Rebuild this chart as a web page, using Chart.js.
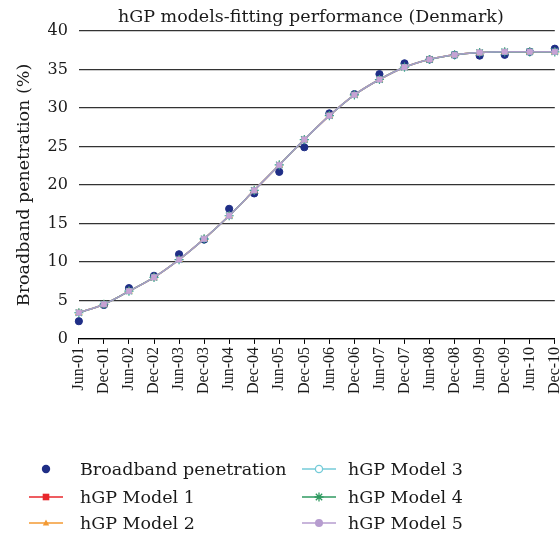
<!DOCTYPE html>
<html>
<head>
<meta charset="utf-8">
<script src="https://cdn.jsdelivr.net/npm/chart.js@4.4.1/dist/chart.umd.min.js"></script>
<style>
  html, body { margin: 0; padding: 0; background: #fff; overflow: hidden; }
  #caixa { width: 577px; height: 537px; }
</style>
</head>
<body>
<div id="caixa"><canvas id="grafico" width="577" height="537"></canvas></div>
<script>
let periodos = ["Jun-01", "Dec-01", "Jun-02", "Dec-02", "Jun-03", "Dec-03", "Jun-04", "Dec-04", "Jun-05", "Dec-05",
                "Jun-06", "Dec-06", "Jun-07", "Dec-07", "Jun-08", "Dec-08", "Jun-09", "Dec-09", "Jun-10", "Dec-10"];
let penetracao = [2.3, 4.4, 6.6, 8.2, 11.0, 12.9, 16.9, 18.9, 21.7, 24.9, 29.3, 31.8, 34.4, 35.8, 36.3, 36.9, 36.8, 36.9, 37.3, 37.7];
let modelo1 = [3.4, 4.5, 6.2, 8.0, 10.3, 13.0, 16.0, 19.3, 22.6, 25.9, 29.0, 31.7, 33.7, 35.3, 36.3, 36.9, 37.2, 37.3, 37.3, 37.3];
let modelo2 = [3.4, 4.5, 6.2, 8.0, 10.3, 13.0, 16.0, 19.3, 22.6, 25.9, 29.0, 31.7, 33.7, 35.3, 36.3, 36.9, 37.2, 37.3, 37.3, 37.3];
let modelo3 = [3.4, 4.5, 6.2, 8.0, 10.3, 13.0, 16.0, 19.3, 22.6, 25.9, 29.0, 31.7, 33.7, 35.3, 36.3, 36.9, 37.2, 37.3, 37.3, 37.3];
let modelo4 = [3.4, 4.5, 6.2, 8.0, 10.3, 13.0, 16.0, 19.3, 22.6, 25.9, 29.0, 31.7, 33.7, 35.3, 36.3, 36.9, 37.2, 37.3, 37.3, 37.3];
let modelo5 = [3.4, 4.5, 6.2, 8.0, 10.3, 13.0, 16.0, 19.3, 22.6, 25.9, 29.0, 31.7, 33.7, 35.3, 36.3, 36.9, 37.2, 37.3, 37.3, 37.3];

let titulo = "hGP models-fitting performance (Denmark)";
let serif = "'DejaVu Serif', serif";

// legend drawn by hand: two columns, like the original figure
let itensLegenda = [
  { texto: "Broadband penetration", cor: "#1f2e86", marca: "ponto",    linha: false },
  { texto: "hGP Model 1",           cor: "#e8272c", marca: "quadrado", linha: true },
  { texto: "hGP Model 2",           cor: "#f39a33", marca: "triangulo", linha: true },
  { texto: "hGP Model 3",           cor: "#74cbd8", marca: "aberto",   linha: true },
  { texto: "hGP Model 4",           cor: "#2f9a60", marca: "estrela",  linha: true },
  { texto: "hGP Model 5",           cor: "#b69ccf", marca: "circulo",  linha: true }
];

let desenharMarca = (ctx, marca, cor, x, y) => {
  ctx.save();
  ctx.fillStyle = cor;
  ctx.strokeStyle = cor;
  ctx.lineWidth = 1.3;
  ctx.beginPath();
  if (marca === "ponto") {
    ctx.arc(x, y, 4.2, 0, Math.PI * 2);
    ctx.fill();
  } else if (marca === "quadrado") {
    ctx.fillRect(x - 3.3, y - 3.3, 6.6, 6.6);
  } else if (marca === "triangulo") {
    ctx.moveTo(x, y - 3.5);
    ctx.lineTo(x + 3.2, y + 2.5);
    ctx.lineTo(x - 3.2, y + 2.5);
    ctx.closePath();
    ctx.fill();
  } else if (marca === "aberto") {
    ctx.fillStyle = "#fff";
    ctx.arc(x, y, 3.6, 0, Math.PI * 2);
    ctx.fill();
    ctx.stroke();
  } else if (marca === "estrela") {
    for (let a = 0; a < 4; a++) {
      let ang = a * Math.PI / 4;
      ctx.moveTo(x - 4.5 * Math.cos(ang), y - 4.5 * Math.sin(ang));
      ctx.lineTo(x + 4.5 * Math.cos(ang), y + 4.5 * Math.sin(ang));
    }
    ctx.stroke();
  } else {
    ctx.arc(x, y, 4, 0, Math.PI * 2);
    ctx.fill();
  }
  ctx.restore();
};

let legendaColunas = {
  id: "legendaColunas",
  afterDraw: (chart) => {
    let ctx = chart.ctx;
    let area = chart.chartArea;
    ctx.save();
    // title, centred over the plot area
    ctx.font = "17.5px " + serif;
    ctx.fillStyle = "#1a1a1a";
    ctx.textAlign = "center";
    ctx.textBaseline = "middle";
    ctx.fillText(titulo, (area.left + area.right) / 2 - 6, 17);

    let colunas = [{ linha: 29, texto: 80 }, { linha: 302, texto: 348 }];
    let linhas = [469, 497, 523];
    ctx.textAlign = "left";
    itensLegenda.forEach((item, i) => {
      let col = colunas[Math.floor(i / 3)];
      let y = linhas[i % 3];
      if (item.linha) {
        ctx.strokeStyle = item.cor;
        ctx.lineWidth = 1.5;
        ctx.beginPath();
        ctx.moveTo(col.linha, y);
        ctx.lineTo(col.linha + 34, y);
        ctx.stroke();
      }
      desenharMarca(ctx, item.marca, item.cor, col.linha + 17, y);
      ctx.fillStyle = "#1a1a1a";
      ctx.fillText(item.texto, col.texto, y + 1);
    });
    ctx.restore();
  }
};

let modelo = (rotulo, dados, cor, estilo, ordem, extra) => Object.assign({
  label: rotulo,
  data: dados,
  borderColor: cor,
  backgroundColor: cor,
  pointBackgroundColor: cor,
  pointBorderColor: cor,
  borderWidth: 1.5,
  pointStyle: estilo,
  pointRadius: 3,
  cubicInterpolationMode: "monotone",
  clip: false,
  order: ordem
}, extra || {});

let ctx = document.getElementById("grafico").getContext("2d");

let meuGrafico = new Chart(ctx, {
  type: "line",
  data: {
    labels: periodos,
    datasets: [
      {
        label: "Broadband penetration",
        data: penetracao,
        showLine: false,
        pointStyle: "circle",
        pointRadius: 3.6,
        pointBackgroundColor: "#1f2e86",
        pointBorderColor: "#1f2e86",
        borderColor: "#1f2e86",
        clip: false,
        order: 10
      },
      modelo("hGP Model 1", modelo1, "#e8272c", "rect", 5),
      modelo("hGP Model 2", modelo2, "#f39a33", "triangle", 4),
      modelo("hGP Model 3", modelo3, "#74cbd8", "circle", 3, { pointBackgroundColor: "#fff", pointRadius: 2.5 }),
      modelo("hGP Model 4", modelo4, "#3aa58a", "star", 2, { pointRadius: 4.6, borderWidth: 1.2 }),
      modelo("hGP Model 5", modelo5, "#aa9cc6", "rect", 1, { pointBackgroundColor: "#c7a2d4", pointBorderColor: "#c7a2d4", pointRadius: 3.8, pointBorderWidth: 0.5 })
    ]
  },
  options: {
    responsive: false,
    animation: false,
    layout: { padding: { left: 9.5, top: 31, right: 0, bottom: 140 } },
    plugins: {
      legend: { display: false },
      tooltip: { enabled: false },
      title: { display: false }
    },
    scales: {
      x: {
        grid: { display: true, drawOnChartArea: false, drawTicks: true, tickLength: 5, color: "#000", lineWidth: 1 },
        border: { display: true, color: "#000", width: 1.3 },
        ticks: {
          autoSkip: false,
          minRotation: 90,
          maxRotation: 90,
          padding: 3,
          color: "#1a1a1a",
          font: { family: "'Liberation Serif', serif", size: 16 }
        }
      },
      y: {
        min: 0,
        max: 40,
        border: { display: false },
        grid: { drawTicks: false, color: "#333", lineWidth: 1.2 },
        ticks: {
          stepSize: 5,
          padding: 11,
          color: "#1a1a1a",
          font: { family: serif, size: 16 }
        },
        title: {
          display: true,
          text: "Broadband penetration (%)",
          color: "#1a1a1a",
          font: { family: serif, size: 17.5, weight: "normal" },
          padding: { top: 4, bottom: 2 }
        }
      }
    }
  },
  plugins: [legendaColunas]
});
</script>
</body>
</html>
